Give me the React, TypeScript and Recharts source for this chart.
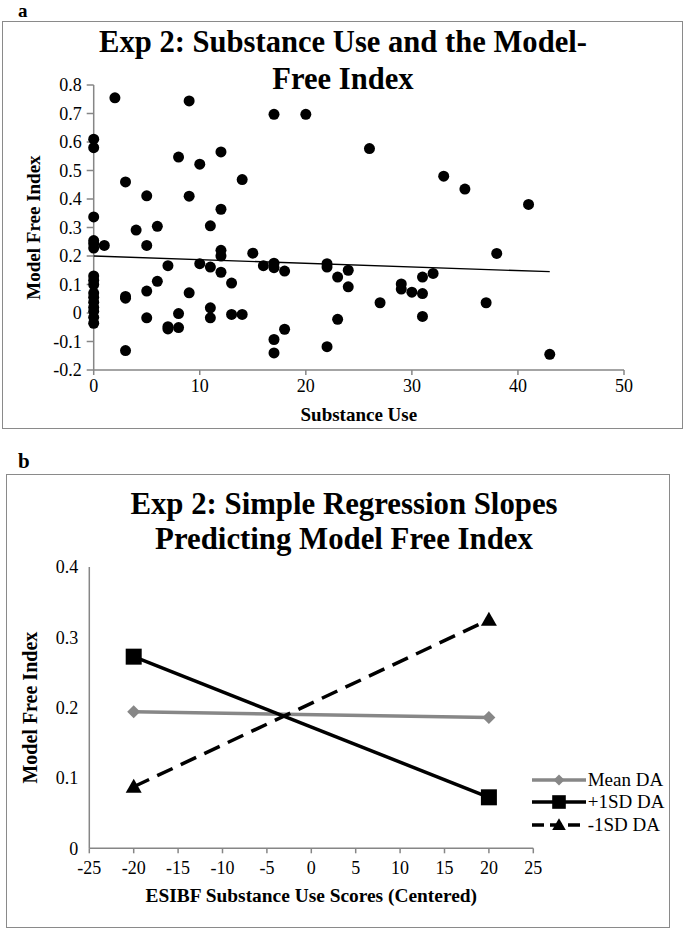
import React from 'react';
import { ScatterChart, Scatter, LineChart, Line, XAxis, YAxis, Legend } from 'recharts';

const FONT = '"Liberation Serif", "Times New Roman", serif';
const AXIS_GRAY = '#868686';
const BOX_GRAY = '#8a8a8a';

// Panel a: substance use vs model-free index (one entry per participant)
const substanceUse = [
  0, 0, 0, 0, 0, 0, 0, 0, 0, 0, 0, 0, 0, 0, 0, 0,
  1, 2, 3, 3, 3, 3, 4, 5, 5, 5, 5, 6, 6, 7, 7, 7,
  8, 8, 8, 9, 9, 9, 10, 10, 11, 11, 11, 11,
  12, 12, 12, 12, 12, 13, 13, 14, 14, 15, 16,
  17, 17, 17, 17, 17, 18, 18, 20, 22, 22, 22, 23, 23, 24, 24,
  26, 27, 29, 29, 30, 31, 31, 31, 32, 33, 35, 37, 38, 41, 43,
];
const modelFreeIndex = [
  0.61, 0.58, 0.337, 0.254, 0.243, 0.228, 0.13, 0.115, 0.1, 0.07, 0.055, 0.038, 0.02, 0.006, -0.015, -0.036,
  0.237, 0.755, 0.46, 0.058, 0.052, -0.132, 0.291, 0.411, 0.237, 0.077, -0.017, 0.304, 0.111, 0.166, -0.048, -0.056,
  0.547, -0.002, -0.051, 0.744, 0.41, 0.071, 0.522, 0.173, 0.306, 0.161, 0.018, -0.017,
  0.565, 0.364, 0.22, 0.2, 0.143, 0.105, -0.005, 0.468, -0.005, 0.21, 0.166,
  0.697, 0.175, 0.159, -0.093, -0.14, 0.147, -0.057, 0.697, 0.173, 0.161, -0.118, 0.126, -0.022, 0.15, 0.092,
  0.577, 0.036, 0.102, 0.084, 0.073, 0.126, 0.068, -0.012, 0.139, 0.48, 0.435, 0.036, 0.209, 0.381, -0.145,
];
const trendX = [0, 43];
const trendY = [0.2, 0.145];
const aXTicks = [0, 10, 20, 30, 40, 50];
const aYTicks = [-0.2, -0.1, 0, 0.1, 0.2, 0.3, 0.4, 0.5, 0.6, 0.7, 0.8];

// Panel b: simple slopes
const esibfScores = [-20, 20];
const meanDA = [0.194, 0.186];
const plusSD = [0.2725, 0.0725];
const minusSD = [0.0875, 0.325];
const seriesNames = ['Mean DA', '+1SD DA', '-1SD DA'];
const bXTicks = [-25, -20, -15, -10, -5, 0, 5, 10, 15, 20, 25];
const bYTicks = [0, 0.1, 0.2, 0.3, 0.4];

const scatterData = substanceUse.map((x, i) => ({ x, y: modelFreeIndex[i] }));
const trendData = trendX.map((x, i) => ({ x, y: trendY[i] }));
const slopeData = esibfScores.map((x, i) => ({ x, mean: meanDA[i], plus: plusSD[i], minus: minusSD[i] }));

const fmt = (v: number) => (Math.abs(v) < 1e-9 ? '0' : String(Math.round(v * 10) / 10));

const tickStyle = { fill: '#000', fontSize: 18, fontFamily: FONT };
const titleLabelStyle = { fill: '#000', fontSize: 19, fontWeight: 'bold', fontFamily: FONT };

const seriesStyle = [
  { color: '#878787', dash: undefined, marker: 'diamond' },
  { color: '#000000', dash: undefined, marker: 'square' },
  { color: '#000000', dash: '17 9', marker: 'triangle' },
];

function Marker({ kind, cx, cy, color, scale = 1 }: any) {
  if (cx == null || cy == null) return <g />;
  if (kind === 'diamond') {
    const h = 6.5 * scale;
    return <polygon points={`${cx},${cy - h} ${cx + h},${cy} ${cx},${cy + h} ${cx - h},${cy}`} fill={color} />;
  }
  if (kind === 'square') {
    const h = 8 * scale;
    return <rect x={cx - h} y={cy - h} width={2 * h} height={2 * h} fill={color} />;
  }
  const w = 8 * scale;
  return <polygon points={`${cx},${cy - 8 * scale} ${cx + w},${cy + 6 * scale} ${cx - w},${cy + 6 * scale}`} fill={color} />;
}

function SlopeLegend({ payload }: any) {
  const items = [...(payload || [])].sort(
    (a: any, b: any) => seriesNames.indexOf(a.value) - seriesNames.indexOf(b.value)
  );
  return (
    <div>
      {items.map((entry: any) => {
        const s = seriesStyle[seriesNames.indexOf(entry.value)];
        return (
          <div key={entry.value} style={{ display: 'flex', alignItems: 'center', height: 22.5 }}>
            <svg width={54} height={20} style={{ display: 'block' }}>
              <line x1={0} y1={10} x2={54} y2={10} stroke={s.color} strokeWidth={3.5} strokeDasharray={s.dash ? '12 6' : undefined} />
              <Marker kind={s.marker} cx={27} cy={10} color={s.color} scale={0.85} />
            </svg>
            <span style={{ fontFamily: FONT, fontSize: 19, color: '#000', marginLeft: 2, lineHeight: '20px' }}>{entry.value}</span>
          </div>
        );
      })}
    </div>
  );
}

export default function App() {
  return (
    <div style={{ position: 'absolute', left: 0, top: 0, width: 685, height: 930, background: '#fff', fontFamily: FONT }}>
      {/* panel a */}
      <div style={{ position: 'absolute', left: 18, top: 0, fontSize: 19, fontWeight: 'bold', lineHeight: 'normal' }}>a</div>
      <div style={{ position: 'absolute', left: 2, top: 21, width: 681, height: 408, boxSizing: 'border-box', border: `1.5px solid ${BOX_GRAY}` }} />
      <div style={{ position: 'absolute', left: 2, top: 21 }}>
        <ScatterChart width={681} height={408} margin={{ top: 64, right: 59, bottom: 0, left: 0 }}>
          <XAxis
            type="number"
            dataKey="x"
            domain={[0, 50]}
            ticks={aXTicks}
            interval={0}
            height={59}
            tickSize={5}
            tickMargin={4}
            stroke={AXIS_GRAY}
            strokeWidth={1.5}
            tick={tickStyle}
            label={{ value: 'Substance Use', position: 'insideBottom', offset: 8, style: titleLabelStyle }}
          />
          <YAxis
            type="number"
            dataKey="y"
            domain={[-0.2, 0.8]}
            ticks={aYTicks}
            interval={0}
            width={91.7}
            tickSize={7}
            tickMargin={5}
            tickFormatter={fmt}
            stroke={AXIS_GRAY}
            strokeWidth={1.5}
            tick={tickStyle}
            label={{ value: 'Model Free Index', angle: -90, position: 'insideLeft', offset: 31, style: { ...titleLabelStyle, textAnchor: 'middle' } }}
          />
          <Scatter
            data={scatterData}
            isAnimationActive={false}
            shape={(p: any) => <circle cx={p.cx} cy={p.cy} r={5.5} fill="#000" />}
          />
          <Scatter
            data={trendData}
            isAnimationActive={false}
            line={{ stroke: '#000', strokeWidth: 1.3 }}
            shape={() => <g />}
          />
        </ScatterChart>
      </div>
      <div style={{ position: 'absolute', left: 0, top: 24.2, width: 686, textAlign: 'center', fontSize: 30.6, fontWeight: 'bold', lineHeight: '37px' }}>
        Exp 2: Substance Use and the Model-
        <br />
        Free Index
      </div>

      {/* panel b */}
      <div style={{ position: 'absolute', left: 18, top: 450.7, fontSize: 21, fontWeight: 'bold', lineHeight: '21px' }}>b</div>
      <div style={{ position: 'absolute', left: 6, top: 474, width: 664, height: 454, boxSizing: 'border-box', border: `1.5px solid ${BOX_GRAY}` }} />
      <div style={{ position: 'absolute', left: 6, top: 474 }}>
        <LineChart width={664} height={454} data={slopeData} margin={{ top: 93, right: 136.7, bottom: 0, left: 0 }}>
          <XAxis
            type="number"
            dataKey="x"
            domain={[-25, 25]}
            ticks={bXTicks}
            interval={0}
            height={79.7}
            tickSize={5}
            tickMargin={8}
            stroke={AXIS_GRAY}
            strokeWidth={1.5}
            tick={tickStyle}
            label={{ value: 'ESIBF Substance Use Scores (Centered)', position: 'insideBottom', offset: 26, style: { ...titleLabelStyle, fontSize: 19.4 } }}
          />
          <YAxis
            type="number"
            domain={[0, 0.4]}
            ticks={bYTicks}
            interval={0}
            width={83.3}
            tickLine={false}
            tickSize={0}
            tickMargin={11}
            tickFormatter={fmt}
            stroke={AXIS_GRAY}
            strokeWidth={1.5}
            tick={tickStyle}
            label={{ value: 'Model Free Index', angle: -90, position: 'insideLeft', offset: 24, style: { ...titleLabelStyle, fontSize: 20, textAnchor: 'middle' } }}
          />
          <Legend
            layout="vertical"
            align="center"
            verticalAlign="middle"
            wrapperStyle={{ left: 525.7, top: 294.7, width: 140 }}
            content={<SlopeLegend />}
          />
          {(['mean', 'plus', 'minus'] as const).map((key, i) => {
            const s = seriesStyle[i];
            return (
              <Line
                key={key}
                dataKey={key}
                name={seriesNames[i]}
                type="linear"
                stroke={s.color}
                strokeWidth={3.5}
                strokeDasharray={s.dash}
                isAnimationActive={false}
                dot={(p: any) => <Marker key={`${key}-${p.index}`} kind={s.marker} cx={p.cx} cy={p.cy} color={s.color} />}
                activeDot={false}
              />
            );
          })}
        </LineChart>
      </div>
      <div style={{ position: 'absolute', left: 0, top: 487.2, width: 688, textAlign: 'center', fontSize: 30.8, fontWeight: 'bold', lineHeight: '35px' }}>
        Exp 2: Simple Regression Slopes
        <br />
        Predicting Model Free Index
      </div>
    </div>
  );
}
